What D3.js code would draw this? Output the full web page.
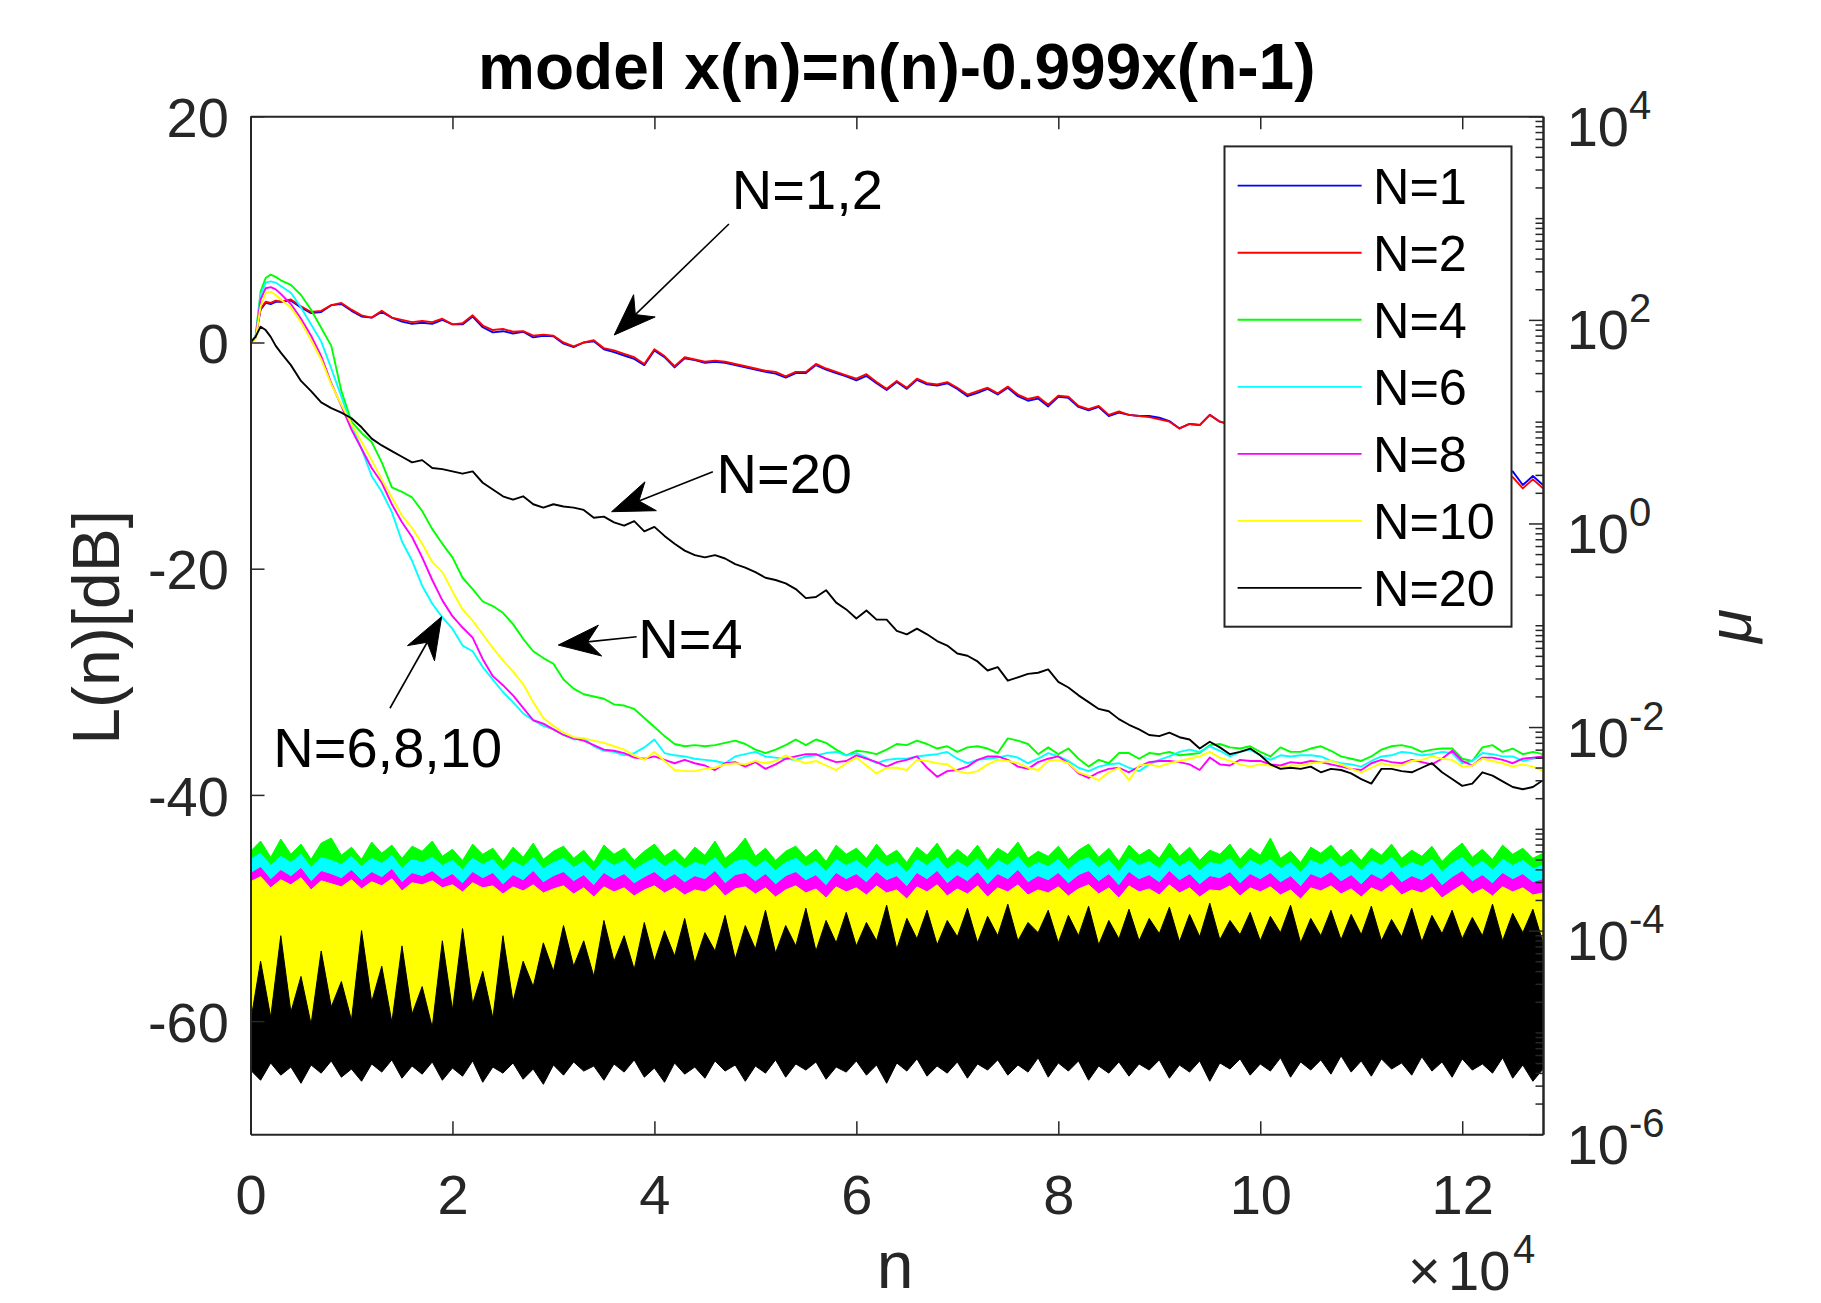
<!DOCTYPE html>
<html>
<head>
<meta charset="utf-8">
<script src="https://cdn.jsdelivr.net/npm/d3@7"></script>
<style>
  html, body { margin: 0; padding: 0; background: #ffffff; }
  svg { display: block; }
  text { font-family: "Liberation Sans", Arial, Helvetica, sans-serif; }
</style>
</head>
<body>
<svg id="chart" width="1821" height="1303"></svg>
<script>
// ---------------- DATA ----------------
const seriesNames = ["N=1", "N=2", "N=4", "N=6", "N=8", "N=10", "N=20"];
const seriesColors = ["#0000ff", "#ff0000", "#00ff00", "#00ffff", "#ff00ff", "#ffff00", "#000000"];

// sample index n (in thousands) for the learning curves
const nK = [0,0.5,1,1.5,2,2.5,3,4,5,6,7,8,9,10,11,12,13,14,15,16,17,18,19,20,21,22,23,24,25,26,27,28,29,30,
  31,32,33,34,35,36,37,38,39,40,41,42,43,44,45,46,47,48,49,50,51,52,53,54,55,56,57,58,59,60,61,62,63,64,65,
  66,67,68,69,70,71,72,73,74,75,76,77,78,79,80,81,82,83,84,85,86,87,88,89,90,91,92,93,94,95,96,97,98,99,100,
  101,102,103,104,105,106,107,108,109,110,111,112,113,114,115,116,117,118,119,120,121,122,123,124,125,126,127,128];

// learning curves L(n) in dB
const L_N1 = [0,0.5,2.9,3.5,3.4,3.6,
  3.6,3.7,3.1,2.6,2.7,3.3,3.4,2.8,2.3,2.2,
  2.7,2.2,1.85,1.65,1.75,1.65,2.0,1.6,1.6,2.3,
  1.35,0.9,1.0,0.8,0.95,0.45,0.6,0.55,-0.1,-0.4,
  0.0,0.1,-0.6,-0.85,-1.15,-1.45,-2.0,-0.7,-1.3,-2.2,
  -1.4,-1.55,-1.8,-1.7,-1.8,-2.0,-2.2,-2.4,-2.6,-2.75,
  -3.1,-2.7,-2.7,-2.0,-2.4,-2.7,-3.0,-3.35,-2.95,-3.6,
  -4.2,-3.5,-4.1,-3.3,-3.7,-3.8,-3.6,-4.1,-4.75,-4.45,
  -4.1,-4.6,-4.0,-4.75,-5.15,-4.95,-5.65,-4.8,-4.9,-5.7,
  -6.0,-5.7,-6.5,-6.2,-6.4,-6.5,-6.5,-6.65,-6.95,-7.6,
  -7.2,-7.3,-6.4,-7.0,-7.2,-7.4,-7.5,-7.7,-7.9,-8.0,
  -8.2,-8.4,-8.5,-8.7,-8.9,-9.0,-9.2,-9.4,-9.5,-9.7,
  -9.9,-10.0,-10.2,-10.4,-10.5,-10.7,-10.9,-11.0,-11.1,-11.2,
  -11.3,-11.4,-11.4,-12.6,-11.8,-12.6];
const L_N2 = [0,0.5,3.0,3.6,3.5,3.7,
  3.6,3.8,3.2,2.7,2.8,3.3,3.5,2.9,2.4,2.2,
  2.8,2.2,2.0,1.8,1.9,1.8,2.1,1.6,1.7,2.4,
  1.5,1.1,1.2,0.95,1.0,0.6,0.7,0.6,0.0,-0.35,
  0.0,0.2,-0.5,-0.7,-1.0,-1.3,-1.9,-0.6,-1.2,-2.1,
  -1.3,-1.5,-1.7,-1.6,-1.7,-1.9,-2.1,-2.3,-2.5,-2.6,
  -3.0,-2.6,-2.6,-1.9,-2.3,-2.6,-2.9,-3.2,-2.8,-3.5,
  -4.1,-3.4,-4.0,-3.2,-3.6,-3.7,-3.5,-4.0,-4.6,-4.3,
  -4.0,-4.5,-3.9,-4.6,-5.0,-4.8,-5.5,-4.7,-4.8,-5.6,
  -5.9,-5.6,-6.4,-6.1,-6.4,-6.5,-6.6,-6.8,-7.0,-7.6,
  -7.2,-7.3,-6.4,-7.0,-7.3,-7.5,-7.6,-7.8,-8.0,-8.1,
  -8.3,-8.5,-8.6,-8.8,-9.0,-9.1,-9.3,-9.5,-9.6,-9.8,
  -10.0,-10.1,-10.3,-10.5,-10.6,-10.8,-11.0,-11.1,-11.3,-11.4,
  -11.6,-11.8,-11.9,-12.9,-12.1,-12.9];
const L_N4 = [0,0.5,4.5,5.7,6.0,5.8,
  5.5,5.1,4.2,2.9,1.3,-0.3,-4.3,-7.0,-8.0,-8.8,
  -10.6,-12.8,-13.2,-13.7,-14.9,-16.5,-17.8,-19.0,-20.8,-21.8,
  -22.9,-23.3,-23.9,-24.9,-26.2,-27.3,-27.9,-28.4,-29.8,-30.6,
  -31.1,-31.3,-31.5,-32.0,-32.1,-32.4,-33.2,-34.0,-34.8,-35.5,
  -35.7,-35.6,-35.7,-35.6,-35.4,-35.2,-35.5,-36.0,-36.3,-36.0,
  -35.6,-35.1,-35.6,-35.1,-35.4,-36.0,-36.5,-36.1,-36.2,-36.4,
  -36.0,-35.5,-35.6,-35.2,-35.5,-35.9,-35.7,-36.2,-35.8,-35.7,
  -35.9,-36.3,-35.0,-35.2,-35.5,-36.4,-35.8,-36.4,-35.9,-36.8,
  -37.5,-36.9,-37.2,-36.3,-36.3,-36.8,-36.3,-36.4,-36.2,-36.5,
  -36.4,-36.3,-35.6,-35.5,-35.8,-35.9,-35.7,-36.2,-36.6,-35.8,
  -36.2,-36.2,-35.9,-35.7,-36.1,-36.6,-36.8,-37.0,-36.6,-36.0,
  -35.7,-35.6,-35.8,-36.2,-36.0,-35.9,-35.9,-36.8,-37.0,-35.8,
  -35.6,-36.2,-35.9,-36.4,-36.2,-36.4];
const L_N6 = [0,0.5,4.2,5.3,5.4,5.3,
  5.0,4.4,3.1,1.6,0.1,-2.3,-4.8,-7.3,-9.4,-11.8,
  -13.2,-15.0,-17.6,-19.3,-21.5,-23.1,-24.3,-25.3,-26.8,-27.3,
  -28.7,-29.8,-30.9,-31.8,-32.8,-33.4,-33.9,-34.2,-34.7,-35.1,
  -35.0,-35.7,-36.1,-36.2,-36.5,-36.3,-35.8,-35.1,-36.3,-36.5,
  -36.6,-36.8,-36.9,-37.0,-37.2,-36.6,-36.4,-36.2,-36.6,-36.7,
  -36.8,-36.9,-36.6,-36.5,-36.3,-36.2,-36.5,-36.3,-36.7,-37.2,
  -36.9,-36.8,-36.8,-36.6,-36.5,-36.4,-36.2,-36.8,-37.2,-36.9,
  -36.8,-36.7,-36.5,-36.7,-37.2,-36.8,-36.3,-36.6,-37.0,-37.6,
  -37.9,-37.5,-37.3,-37.2,-37.6,-37.9,-37.3,-36.9,-36.6,-36.2,
  -36.0,-36.2,-35.7,-36.1,-36.6,-36.2,-36.0,-36.5,-36.9,-36.5,
  -36.6,-36.5,-36.5,-36.6,-37.0,-37.2,-37.3,-37.5,-37.0,-36.6,
  -36.5,-36.2,-36.3,-36.5,-36.4,-36.2,-36.3,-37.2,-37.0,-36.3,
  -36.4,-36.6,-36.6,-37.0,-36.8,-36.6];
const L_N8 = [0,0.4,3.8,4.8,4.9,4.7,
  4.3,3.4,2.1,0.6,-1.2,-3.6,-5.6,-7.7,-9.4,-11.1,
  -12.4,-14.3,-15.9,-17.2,-19.0,-21.0,-22.8,-24.2,-25.2,-26.1,
  -28.0,-29.5,-30.3,-31.2,-32.3,-33.4,-33.7,-34.2,-34.7,-35.0,
  -35.2,-35.6,-36.0,-36.1,-36.3,-36.7,-36.8,-36.6,-36.9,-37.2,
  -36.9,-37.2,-37.4,-37.8,-37.2,-37.1,-37.5,-37.1,-37.7,-37.3,
  -36.8,-36.6,-36.4,-36.4,-36.8,-37.1,-37.0,-36.5,-36.8,-37.1,
  -37.5,-37.1,-36.9,-36.6,-37.6,-38.4,-37.9,-37.8,-37.5,-36.9,
  -36.6,-36.6,-36.9,-37.5,-37.7,-37.1,-36.8,-36.6,-37.2,-38.1,
  -38.5,-38.0,-37.7,-37.6,-38.0,-37.5,-37.1,-37.0,-37.0,-37.1,
  -37.3,-37.8,-36.7,-37.3,-37.4,-36.9,-37.0,-37.0,-37.3,-37.4,
  -37.1,-37.2,-37.0,-37.1,-37.3,-37.5,-37.7,-37.8,-37.2,-36.9,
  -37.1,-37.2,-36.9,-37.1,-37.3,-36.8,-36.1,-37.0,-37.4,-36.7,
  -36.7,-36.9,-37.2,-36.8,-36.7,-36.6];
const L_N10 = [0,0.3,3.2,4.4,4.5,4.2,
  3.8,3.1,1.8,0.2,-1.5,-3.7,-5.5,-7.2,-8.8,-10.4,
  -12.1,-13.7,-15.3,-16.4,-17.8,-19.4,-20.3,-22.0,-23.6,-24.6,
  -25.8,-27.0,-28.1,-29.1,-30.2,-31.8,-33.2,-33.9,-34.5,-34.9,
  -35.0,-35.2,-35.4,-35.7,-36.0,-36.5,-36.9,-36.2,-37.0,-37.8,
  -37.9,-37.9,-37.7,-37.6,-37.3,-37.2,-37.3,-37.0,-37.2,-37.0,
  -36.5,-36.9,-37.2,-37.0,-37.4,-37.8,-37.2,-36.7,-37.4,-38.1,
  -37.6,-37.6,-37.8,-36.9,-37.0,-37.2,-37.3,-37.9,-38.1,-37.9,
  -37.3,-36.9,-37.0,-37.2,-37.6,-37.8,-37.0,-36.9,-37.2,-38.0,
  -38.3,-38.7,-38.0,-37.6,-38.7,-37.4,-37.3,-37.5,-37.2,-37.0,
  -36.8,-36.6,-36.2,-36.7,-37.0,-37.3,-37.5,-37.3,-37.4,-37.6,
  -37.4,-37.4,-37.2,-37.1,-37.0,-37.3,-37.7,-38.0,-37.6,-37.2,
  -37.4,-37.4,-37.0,-36.9,-36.6,-36.8,-36.9,-37.5,-37.4,-36.8,
  -37.0,-37.2,-37.5,-37.3,-37.5,-37.9];
const L_N20 = [0,0.5,1.4,1.1,0.5,-0.3,
  -0.9,-2.0,-3.4,-4.3,-5.3,-5.8,-6.2,-6.7,-7.5,-8.5,
  -9.1,-9.6,-10.1,-10.6,-10.4,-11.1,-11.2,-11.4,-11.6,-11.4,
  -12.4,-13.0,-13.6,-13.9,-13.6,-14.3,-14.6,-14.3,-14.5,-14.6,
  -14.8,-15.5,-15.4,-15.9,-16.2,-15.8,-16.7,-16.3,-17.1,-17.8,
  -18.4,-18.8,-19.0,-18.8,-19.1,-19.6,-19.9,-20.3,-20.8,-21.0,
  -21.3,-21.8,-22.6,-22.5,-21.9,-23.0,-23.6,-24.4,-23.7,-24.5,
  -24.5,-25.5,-25.8,-25.3,-25.8,-26.4,-26.8,-27.5,-27.7,-28.2,
  -29.0,-28.7,-29.9,-29.6,-29.3,-29.2,-28.9,-30.0,-30.5,-31.2,
  -31.8,-32.4,-32.6,-33.3,-33.8,-34.2,-34.7,-34.8,-34.5,-34.9,
  -35.1,-35.9,-35.3,-35.8,-36.4,-36.2,-35.9,-36.5,-37.3,-37.7,
  -37.6,-37.7,-37.5,-38.0,-37.7,-37.8,-38.1,-38.6,-39.0,-37.7,
  -37.7,-37.9,-38.0,-37.6,-37.2,-38.0,-38.6,-39.2,-39.0,-38.0,
  -38.3,-38.8,-39.3,-39.5,-39.3,-38.7];

// step size mu (right log axis): band envelopes given as log10(mu)
const muGridK = [0,1,2,3,4,5,6,7,8,9,10,11,12,13,14,15,16,17,18,19,20,21,22,23,24,25,26,27,28,29,30,31,32,
  33,34,35,36,37,38,39,40,41,42,43,44,45,46,47,48,49,50,51,52,53,54,55,56,57,58,59,60,61,62,63,64,65,66,67,
  68,69,70,71,72,73,74,75,76,77,78,79,80,81,82,83,84,85,86,87,88,89,90,91,92,93,94,95,96,97,98,99,100,101,
  102,103,104,105,106,107,108,109,110,111,112,113,114,115,116,117,118,119,120,121,122,123,124,125,126,127,128];
const muCoarseK = [0,8,16,24,32,40,48,56,64,72,80,88,96,104,112,120,128];

const log10MuUpperN4 = [
  -3.22,-3.12,-3.28,-3.10,-3.25,-3.15,-3.30,-3.14,-3.09,-3.26,
  -3.18,-3.30,-3.13,-3.24,-3.16,-3.29,-3.17,-3.22,-3.12,-3.27,
  -3.20,-3.31,-3.15,-3.25,-3.19,-3.32,-3.18,-3.28,-3.14,-3.30,
  -3.22,-3.17,-3.29,-3.21,-3.33,-3.16,-3.25,-3.19,-3.31,-3.22,
  -3.15,-3.27,-3.20,-3.30,-3.18,-3.26,-3.12,-3.29,-3.21,-3.09,
  -3.27,-3.19,-3.31,-3.22,-3.17,-3.28,-3.20,-3.32,-3.16,-3.25,
  -3.19,-3.29,-3.15,-3.27,-3.21,-3.33,-3.18,-3.26,-3.14,-3.30,
  -3.20,-3.28,-3.16,-3.31,-3.19,-3.25,-3.13,-3.29,-3.22,-3.27,
  -3.17,-3.30,-3.21,-3.15,-3.28,-3.19,-3.32,-3.16,-3.26,-3.20,
  -3.29,-3.14,-3.27,-3.18,-3.31,-3.21,-3.25,-3.15,-3.30,-3.19,
  -3.26,-3.09,-3.29,-3.22,-3.33,-3.18,-3.24,-3.16,-3.28,-3.20,
  -3.31,-3.19,-3.26,-3.15,-3.29,-3.21,-3.27,-3.17,-3.32,-3.22,
  -3.14,-3.28,-3.20,-3.30,-3.16,-3.25,-3.19,-3.29,-3.24];
const log10MuLowerN4 = [-3.49,-3.51,-3.50,-3.52,-3.50,-3.51,-3.49,-3.52,-3.50,-3.51,-3.50,-3.52,-3.50,-3.51,-3.49,-3.52,-3.50];

const log10MuUpperN6 = [
  -3.30,-3.24,-3.36,-3.27,-3.33,-3.25,-3.38,-3.28,-3.31,-3.35,
  -3.27,-3.37,-3.29,-3.34,-3.26,-3.39,-3.30,-3.33,-3.28,-3.36,
  -3.31,-3.40,-3.29,-3.35,-3.30,-3.41,-3.32,-3.37,-3.28,-3.39,
  -3.33,-3.29,-3.38,-3.32,-3.42,-3.30,-3.36,-3.31,-3.40,-3.34,
  -3.29,-3.37,-3.31,-3.39,-3.33,-3.36,-3.28,-3.40,-3.32,-3.30,
  -3.38,-3.31,-3.41,-3.33,-3.29,-3.37,-3.32,-3.42,-3.30,-3.36,
  -3.31,-3.39,-3.29,-3.37,-3.33,-3.43,-3.30,-3.36,-3.28,-3.40,
  -3.32,-3.38,-3.29,-3.41,-3.31,-3.36,-3.27,-3.39,-3.33,-3.37,
  -3.30,-3.40,-3.32,-3.28,-3.38,-3.31,-3.42,-3.29,-3.36,-3.32,
  -3.39,-3.28,-3.37,-3.31,-3.41,-3.33,-3.35,-3.29,-3.40,-3.31,
  -3.36,-3.30,-3.39,-3.33,-3.43,-3.31,-3.35,-3.29,-3.38,-3.32,
  -3.41,-3.31,-3.36,-3.28,-3.39,-3.33,-3.37,-3.30,-3.42,-3.34,
  -3.28,-3.38,-3.32,-3.40,-3.30,-3.36,-3.31,-3.39,-3.36];
const log10MuLowerN6 = [-3.62,-3.63,-3.61,-3.63,-3.62,-3.64,-3.62,-3.63,-3.61,-3.63,-3.62,-3.64,-3.62,-3.63,-3.62,-3.63,-3.62];

const log10MuUpperN8 = [
  -3.44,-3.38,-3.50,-3.41,-3.47,-3.39,-3.52,-3.42,-3.45,-3.49,
  -3.41,-3.51,-3.43,-3.48,-3.40,-3.53,-3.44,-3.47,-3.42,-3.50,
  -3.45,-3.54,-3.43,-3.49,-3.44,-3.55,-3.46,-3.51,-3.42,-3.53,
  -3.47,-3.43,-3.52,-3.46,-3.56,-3.44,-3.50,-3.45,-3.54,-3.48,
  -3.43,-3.51,-3.45,-3.53,-3.47,-3.50,-3.42,-3.54,-3.46,-3.44,
  -3.52,-3.45,-3.55,-3.47,-3.43,-3.51,-3.46,-3.56,-3.44,-3.50,
  -3.45,-3.53,-3.43,-3.51,-3.47,-3.57,-3.44,-3.50,-3.42,-3.54,
  -3.46,-3.52,-3.43,-3.55,-3.45,-3.50,-3.41,-3.53,-3.47,-3.51,
  -3.44,-3.54,-3.46,-3.42,-3.52,-3.45,-3.56,-3.43,-3.50,-3.46,
  -3.53,-3.42,-3.51,-3.45,-3.55,-3.47,-3.49,-3.43,-3.54,-3.45,
  -3.50,-3.44,-3.53,-3.47,-3.57,-3.45,-3.49,-3.43,-3.52,-3.46,
  -3.55,-3.45,-3.50,-3.42,-3.53,-3.47,-3.51,-3.44,-3.56,-3.48,
  -3.42,-3.52,-3.46,-3.54,-3.44,-3.50,-3.45,-3.53,-3.50];
const log10MuLowerN8 = [-3.78,-3.76,-3.77,-3.76,-3.78,-3.77,-3.76,-3.78,-3.77,-3.76,-3.78,-3.77,-3.76,-3.78,-3.77,-3.76,-3.77];

const log10MuUpperN10 = [
  -3.52,-3.47,-3.58,-3.50,-3.55,-3.48,-3.60,-3.51,-3.54,-3.57,
  -3.50,-3.59,-3.52,-3.56,-3.49,-3.61,-3.53,-3.55,-3.51,-3.58,
  -3.55,-3.62,-3.53,-3.58,-3.56,-3.64,-3.57,-3.61,-3.55,-3.63,
  -3.59,-3.56,-3.64,-3.58,-3.67,-3.57,-3.62,-3.58,-3.66,-3.60,
  -3.56,-3.63,-3.58,-3.65,-3.60,-3.62,-3.55,-3.66,-3.59,-3.57,
  -3.64,-3.58,-3.67,-3.60,-3.56,-3.63,-3.59,-3.68,-3.57,-3.62,
  -3.58,-3.65,-3.56,-3.63,-3.60,-3.69,-3.57,-3.62,-3.55,-3.66,
  -3.59,-3.64,-3.56,-3.67,-3.58,-3.62,-3.55,-3.65,-3.60,-3.63,
  -3.57,-3.66,-3.59,-3.55,-3.64,-3.58,-3.68,-3.56,-3.62,-3.59,
  -3.65,-3.55,-3.63,-3.58,-3.67,-3.60,-3.61,-3.56,-3.66,-3.58,
  -3.62,-3.57,-3.65,-3.60,-3.69,-3.58,-3.61,-3.56,-3.64,-3.59,
  -3.67,-3.58,-3.62,-3.55,-3.65,-3.60,-3.63,-3.57,-3.68,-3.61,
  -3.55,-3.64,-3.59,-3.66,-3.57,-3.62,-3.58,-3.65,-3.63];
const log10MuLowerN10 = [-4.98,-4.96,-4.97,-4.92,-4.62,-4.52,-4.46,-4.41,-4.39,-4.37,-4.38,-4.36,-4.37,-4.36,-4.37,-4.38,-4.36];

const log10MuUpperN20 = [
  -4.90,-4.30,-4.85,-4.05,-4.80,-4.45,-4.92,-4.20,-4.75,-4.50,
  -4.88,-4.00,-4.70,-4.35,-4.90,-4.15,-4.82,-4.55,-4.95,-4.10,
  -4.78,-3.98,-4.72,-4.40,-4.86,-4.05,-4.70,-4.30,-4.55,-4.12,
  -4.40,-3.95,-4.35,-4.10,-4.45,-3.90,-4.30,-4.05,-4.38,-3.92,
  -4.30,-4.00,-4.25,-3.88,-4.32,-4.02,-4.20,-3.85,-4.28,-3.95,
  -4.18,-3.80,-4.22,-3.95,-4.15,-3.78,-4.20,-3.90,-4.12,-3.82,
  -4.15,-3.92,-4.10,-3.75,-4.18,-3.88,-4.08,-3.80,-4.14,-3.90,
  -4.06,-3.78,-4.12,-3.86,-4.05,-3.74,-4.10,-3.92,-4.02,-3.80,
  -4.12,-3.85,-4.05,-3.76,-4.14,-3.90,-4.08,-3.79,-4.10,-3.88,
  -4.03,-3.77,-4.11,-3.84,-4.06,-3.73,-4.09,-3.90,-4.04,-3.82,
  -4.10,-3.86,-4.02,-3.75,-4.12,-3.88,-4.05,-3.80,-4.09,-3.84,
  -4.04,-3.76,-4.10,-3.89,-4.06,-3.78,-4.11,-3.85,-4.03,-3.80,
  -4.08,-3.87,-4.05,-3.74,-4.10,-3.83,-4.02,-3.79,-4.12];
const log10MuLowerN20 = [
  -5.37,-5.47,-5.30,-5.42,-5.34,-5.50,-5.32,-5.40,-5.28,-5.44,
  -5.36,-5.48,-5.31,-5.39,-5.27,-5.45,-5.33,-5.41,-5.29,-5.47,
  -5.35,-5.43,-5.28,-5.49,-5.34,-5.40,-5.30,-5.46,-5.36,-5.51,
  -5.32,-5.42,-5.29,-5.38,-5.33,-5.47,-5.31,-5.39,-5.27,-5.44,
  -5.35,-5.49,-5.30,-5.41,-5.34,-5.45,-5.28,-5.38,-5.32,-5.48,
  -5.33,-5.40,-5.27,-5.44,-5.31,-5.37,-5.29,-5.46,-5.34,-5.39,
  -5.28,-5.42,-5.32,-5.50,-5.30,-5.38,-5.26,-5.43,-5.33,-5.40,
  -5.29,-5.45,-5.31,-5.37,-5.27,-5.42,-5.32,-5.39,-5.25,-5.44,
  -5.30,-5.38,-5.28,-5.47,-5.33,-5.40,-5.29,-5.43,-5.31,-5.37,
  -5.27,-5.45,-5.32,-5.39,-5.28,-5.48,-5.30,-5.36,-5.26,-5.42,
  -5.31,-5.38,-5.25,-5.44,-5.29,-5.37,-5.27,-5.41,-5.23,-5.39,
  -5.28,-5.43,-5.26,-5.36,-5.30,-5.42,-5.24,-5.38,-5.29,-5.44,
  -5.26,-5.37,-5.31,-5.40,-5.25,-5.45,-5.32,-5.48,-5.36];

// ticks
const xTickValues = [0, 20000, 40000, 60000, 80000, 100000, 120000];
const xTickLabels = ["0", "2", "4", "6", "8", "10", "12"];
const yLeftTickValues = [20, 0, -20, -40, -60];
const yRightMajorExponents = [-6, -4, -2, 0, 2, 4];

// text annotations (position in n-thousands, dB)
const annotations = [
  { label: "N=1,2",    text: [47.67, 11.79],  from: [47.38, 10.48],  to: [36.02, 0.66] },
  { label: "N=20",     text: [46.15, -13.33], from: [45.79, -11.42], to: [35.76, -14.96] },
  { label: "N=4",      text: [38.40, -27.92], from: [38.24, -26.01], to: [30.48, -26.75] },
  { label: "N=6,8,10", text: [2.26, -37.51],  from: [13.81, -32.34], to: [18.93, -24.24] }
];

// ---------------- DRAWING ----------------
const axisColor = "#262626";
const svg = d3.select("#chart");
svg.append("rect").attr("width", 1821).attr("height", 1303).attr("fill", "#ffffff");

const plotL = 250.5, plotR = 1543, plotT = 116.3, plotB = 1134.2;
const x = d3.scaleLinear().domain([0, 128000]).range([plotL, plotR]);
const yL = d3.scaleLinear().domain([-70, 20]).range([plotB, plotT]);
const yR = d3.scaleLog().domain([1e-6, 1e4]).range([plotB, plotT]);

svg.append("defs").append("clipPath").attr("id", "plotClip")
  .append("rect").attr("x", plotL).attr("y", plotT).attr("width", plotR - plotL).attr("height", plotB - plotT);

const plot = svg.append("g").attr("clip-path", "url(#plotClip)");

// mu bands (right axis)
const muBands = [
  { color: seriesColors[2], upper: log10MuUpperN4,  lower: log10MuLowerN4,  lowerGrid: muCoarseK },
  { color: seriesColors[3], upper: log10MuUpperN6,  lower: log10MuLowerN6,  lowerGrid: muCoarseK },
  { color: seriesColors[4], upper: log10MuUpperN8,  lower: log10MuLowerN8,  lowerGrid: muCoarseK },
  { color: seriesColors[5], upper: log10MuUpperN10, lower: log10MuLowerN10, lowerGrid: muCoarseK },
  { color: seriesColors[6], upper: log10MuUpperN20, lower: log10MuLowerN20, lowerGrid: muGridK }
];
const polyLine = d3.line();
muBands.forEach(b => {
  const top = b.upper.map((v, i) => [x(muGridK[i] * 1000), yR(Math.pow(10, v))]);
  const bot = b.lower.map((v, i) => [x(b.lowerGrid[i] * 1000), yR(Math.pow(10, v))]).reverse();
  plot.append("path")
    .attr("d", polyLine(top.concat(bot)) + "Z")
    .attr("fill", b.color)
    .attr("stroke", b.color)
    .attr("stroke-width", 1)
    .attr("stroke-linejoin", "miter");
});

// learning curves (left axis)
const curves = [L_N1, L_N2, L_N4, L_N6, L_N8, L_N10, L_N20];
const curveLine = d3.line().x((d, i) => x(nK[i] * 1000)).y(d => yL(d));
curves.forEach((c, k) => {
  plot.append("path")
    .attr("d", curveLine(c))
    .attr("fill", "none")
    .attr("stroke", seriesColors[k])
    .attr("stroke-width", 1.9)
    .attr("stroke-linejoin", "round");
});

// axes
function styleAxis(g, fontSize) {
  g.attr("font-family", '"Liberation Sans", Arial, sans-serif').attr("font-size", fontSize);
  g.select(".domain").attr("stroke", axisColor).attr("stroke-width", 2);
  g.selectAll(".tick line").attr("stroke", axisColor).attr("stroke-width", 1.5);
  g.selectAll(".tick text").attr("fill", axisColor);
}

const gx = svg.append("g").attr("transform", `translate(0,${plotB})`)
  .call(d3.axisBottom(x).tickValues(xTickValues).tickFormat((d, i) => xTickLabels[i])
    .tickSizeInner(-13).tickSizeOuter(0).tickPadding(40));
styleAxis(gx, 56);

const gxTop = svg.append("g").attr("transform", `translate(0,${plotT})`)
  .call(d3.axisTop(x).tickValues(xTickValues).tickFormat(() => "")
    .tickSizeInner(-13).tickSizeOuter(0));
styleAxis(gxTop, 56);

const gyL = svg.append("g").attr("transform", `translate(${plotL},0)`)
  .call(d3.axisLeft(yL).tickValues(yLeftTickValues).tickFormat(d => String(d))
    .tickSizeInner(-14).tickSizeOuter(0).tickPadding(21.7));
styleAxis(gyL, 56);
gyL.selectAll(".tick text").attr("dy", "0.36em");

// right log axis: minor + major ticks
const minorTicks = [];
for (let e = -6; e < 4; e++) {
  for (let m = 1; m <= 9; m++) {
    if (m === 1 && yRightMajorExponents.includes(e)) continue;
    minorTicks.push(m * Math.pow(10, e));
  }
}
const gyRminor = svg.append("g").attr("transform", `translate(${plotR},0)`)
  .call(d3.axisRight(yR).tickValues(minorTicks).tickFormat(() => "")
    .tickSizeInner(-7.5).tickSizeOuter(0));
styleAxis(gyRminor, 56);
const gyR = svg.append("g").attr("transform", `translate(${plotR},0)`)
  .call(d3.axisRight(yR).tickValues(yRightMajorExponents.map(e => Math.pow(10, e))).tickFormat(() => "")
    .tickSizeInner(-14).tickSizeOuter(0));
styleAxis(gyR, 56);

const rLabels = svg.append("g");
yRightMajorExponents.forEach(e => {
  const yy = yR(Math.pow(10, e));
  const t = rLabels.append("text").attr("x", plotR + 23.7).attr("y", yy + 29.6)
    .attr("font-size", 56).attr("fill", axisColor);
  t.append("tspan").text("10");
  t.append("tspan").attr("dy", -27).attr("font-size", 40).text(String(e));
});

// legend
const leg = svg.append("g");
leg.append("rect").attr("x", 1224.5).attr("y", 146.4).attr("width", 287).attr("height", 480.3)
  .attr("fill", "#ffffff").attr("stroke", axisColor).attr("stroke-width", 2);
seriesNames.forEach((name, i) => {
  const ly = 185.7 + i * 67.03;
  leg.append("line").attr("x1", 1237.6).attr("x2", 1361.6).attr("y1", ly).attr("y2", ly)
    .attr("stroke", seriesColors[i]).attr("stroke-width", 1.8);
  leg.append("text").attr("x", 1373).attr("y", ly + 18).attr("font-size", 50.4)
    .attr("fill", "#000000").text(name);
});

// annotations with arrows
const ann = svg.append("g");
annotations.forEach(a => {
  const sx = x(a.from[0] * 1000), sy = yL(a.from[1]);
  const tx = x(a.to[0] * 1000), ty = yL(a.to[1]);
  const dx = tx - sx, dy = ty - sy, len = Math.hypot(dx, dy);
  const ux = dx / len, uy = dy / len, vx = -uy, vy = ux;
  const headL = 42, headW = 15.5, notch = 0.7;
  const bx = tx - headL * ux, by = ty - headL * uy;
  const nx = tx - notch * headL * ux, ny = ty - notch * headL * uy;
  ann.append("line").attr("x1", sx).attr("y1", sy).attr("x2", nx).attr("y2", ny)
    .attr("stroke", "#000").attr("stroke-width", 1.6);
  ann.append("path")
    .attr("d", polyLine([[tx, ty], [bx + headW * vx, by + headW * vy], [nx, ny], [bx - headW * vx, by - headW * vy]]) + "Z")
    .attr("fill", "#000").attr("stroke", "#000").attr("stroke-width", 1);
  ann.append("text").attr("x", x(a.text[0] * 1000)).attr("y", yL(a.text[1]))
    .attr("font-size", 56).attr("fill", "#000").text(a.label);
});

// title and labels
svg.append("text").attr("x", (plotL + plotR) / 2).attr("y", 89).attr("text-anchor", "middle")
  .attr("font-size", 64).attr("font-weight", "bold").attr("fill", "#000").text("model x(n)=n(n)-0.999x(n-1)");

svg.append("text").attr("transform", `translate(119,${(plotT + plotB) / 2 + 2}) rotate(-90)`)
  .attr("text-anchor", "middle").attr("font-size", 66).attr("fill", axisColor).text("L(n)[dB]");

svg.append("text").attr("x", 895).attr("y", 1288).attr("text-anchor", "middle")
  .attr("font-size", 66).attr("fill", axisColor).text("n");

svg.append("text").attr("transform", `translate(1751,626) rotate(-90)`)
  .attr("text-anchor", "middle").attr("font-size", 62).attr("font-style", "italic")
  .attr("font-family", '"Liberation Serif", "DejaVu Serif", serif').attr("fill", axisColor).text("μ");

const expLbl = svg.append("text").attr("font-size", 56).attr("fill", axisColor);
expLbl.append("tspan").attr("x", 1408).attr("y", 1290).text("×");
expLbl.append("tspan").attr("x", 1448).attr("y", 1290).text("10");
expLbl.append("tspan").attr("x", 1513).attr("y", 1263).attr("font-size", 40).text("4");
</script>
</body>
</html>
